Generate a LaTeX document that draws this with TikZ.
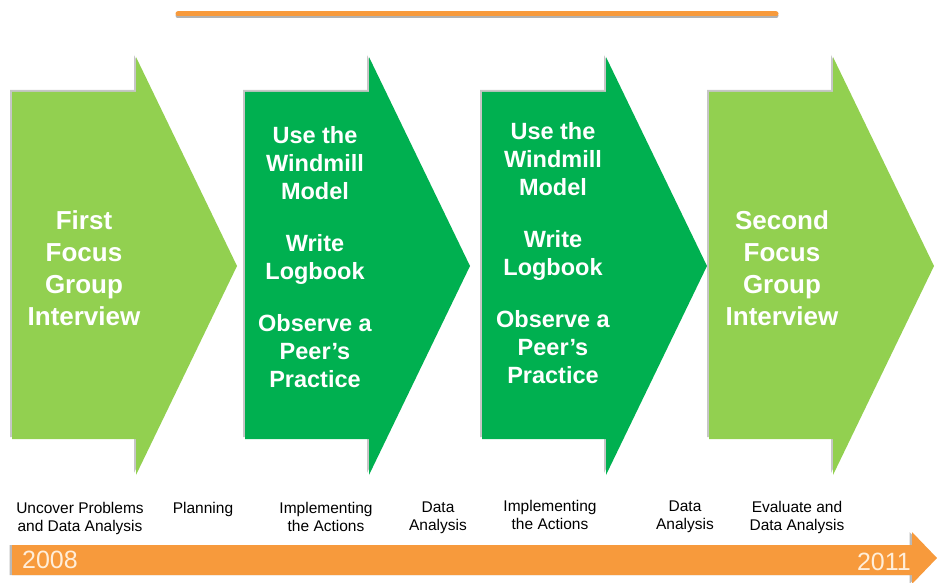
\documentclass[tikz,border=0pt]{standalone}
\usepackage{fontspec}
\setmainfont{Liberation Sans}
\definecolor{lightgrn}{RGB}{146,208,80}
\definecolor{darkgrn}{RGB}{0,176,80}
\definecolor{barorange}{RGB}{247,154,60}
\definecolor{yeartext}{RGB}{255,238,218}

\begin{document}
\begin{tikzpicture}[x=1pt,y=-1pt,
    stage/.style={font=\bfseries\fontsize{26}{32}\selectfont,text=white,align=center,inner sep=0pt},
    task/.style={font=\bfseries\fontsize{23.5}{28}\selectfont,text=white,align=center,inner sep=0pt},
    phase/.style={font=\fontsize{15.5}{18}\selectfont,align=center,anchor=north,inner sep=0pt},
    year/.style={font=\fontsize{25}{25}\selectfont,text=yeartext,inner sep=0pt}]
        \useasboundingbox (0,0) rectangle (937,583);
        % top rule
        \draw[gray!60,line width=5pt,line cap=round] (178,16) -- (776,16);
        \draw[barorange,line width=5pt,line cap=round] (178,14) -- (776,14);
        % the four stages
        \foreach \x/\c in {12/lightgrn,245/darkgrn,482/darkgrn,709/lightgrn} {
          \fill[gray!45,xshift=-2pt,yshift=2pt] (\x,92) -- ({\x+124},92) -- ({\x+124},57) -- ({\x+225},266)
            -- ({\x+124},475) -- ({\x+124},439) -- (\x,439) -- cycle;
          \fill[\c] (\x,92) -- ({\x+124},92) -- ({\x+124},57) -- ({\x+225},266)
            -- ({\x+124},475) -- ({\x+124},439) -- (\x,439) -- cycle;
        }
        \node[stage] (first) at (84,268) {First\\Focus\\Group\\Interview};
        \node[task] (act1) at (315,257) {Use the\\Windmill\\Model\\[24pt]Write\\Logbook\\[24pt]Observe a\\Peer's\\Practice};
        \node[task] (act2) at (553,253) {Use the\\Windmill\\Model\\[24pt]Write\\Logbook\\[24pt]Observe a\\Peer's\\Practice};
        \node[stage] (second) at (782,268) {Second\\Focus\\Group\\Interview};
        % phases
        \node[phase] (uncover) at (80,502) {Uncover Problems\\and Data Analysis};
        \node[phase] (plan) at (203,502) {Planning};
        \node[phase] (impl1) at (326,502) {Implementing\\the Actions};
        \node[phase] (data1) at (438,502) {Data\\Analysis};
        \node[phase] (impl2) at (550,500) {Implementing\\the Actions};
        \node[phase] (data2) at (685,501) {Data\\Analysis};
        \node[phase] (eval) at (797,501) {Evaluate and\\Data Analysis};
        % time line
        \fill[gray!55,xshift=-2.5pt] (12,545) -- (912,545) -- (912,532) -- (937,558) -- (912,584) -- (912,575) -- (12,575) -- cycle;
        \fill[barorange] (12,545) -- (912,545) -- (912,532) -- (937,558) -- (912,584) -- (912,575) -- (12,575) -- cycle;
        \node[year,anchor=west] (start) at (22,560) {2008};
        \node[year,anchor=east] (end) at (911,562) {2011};
      \end{tikzpicture}
\end{document}
